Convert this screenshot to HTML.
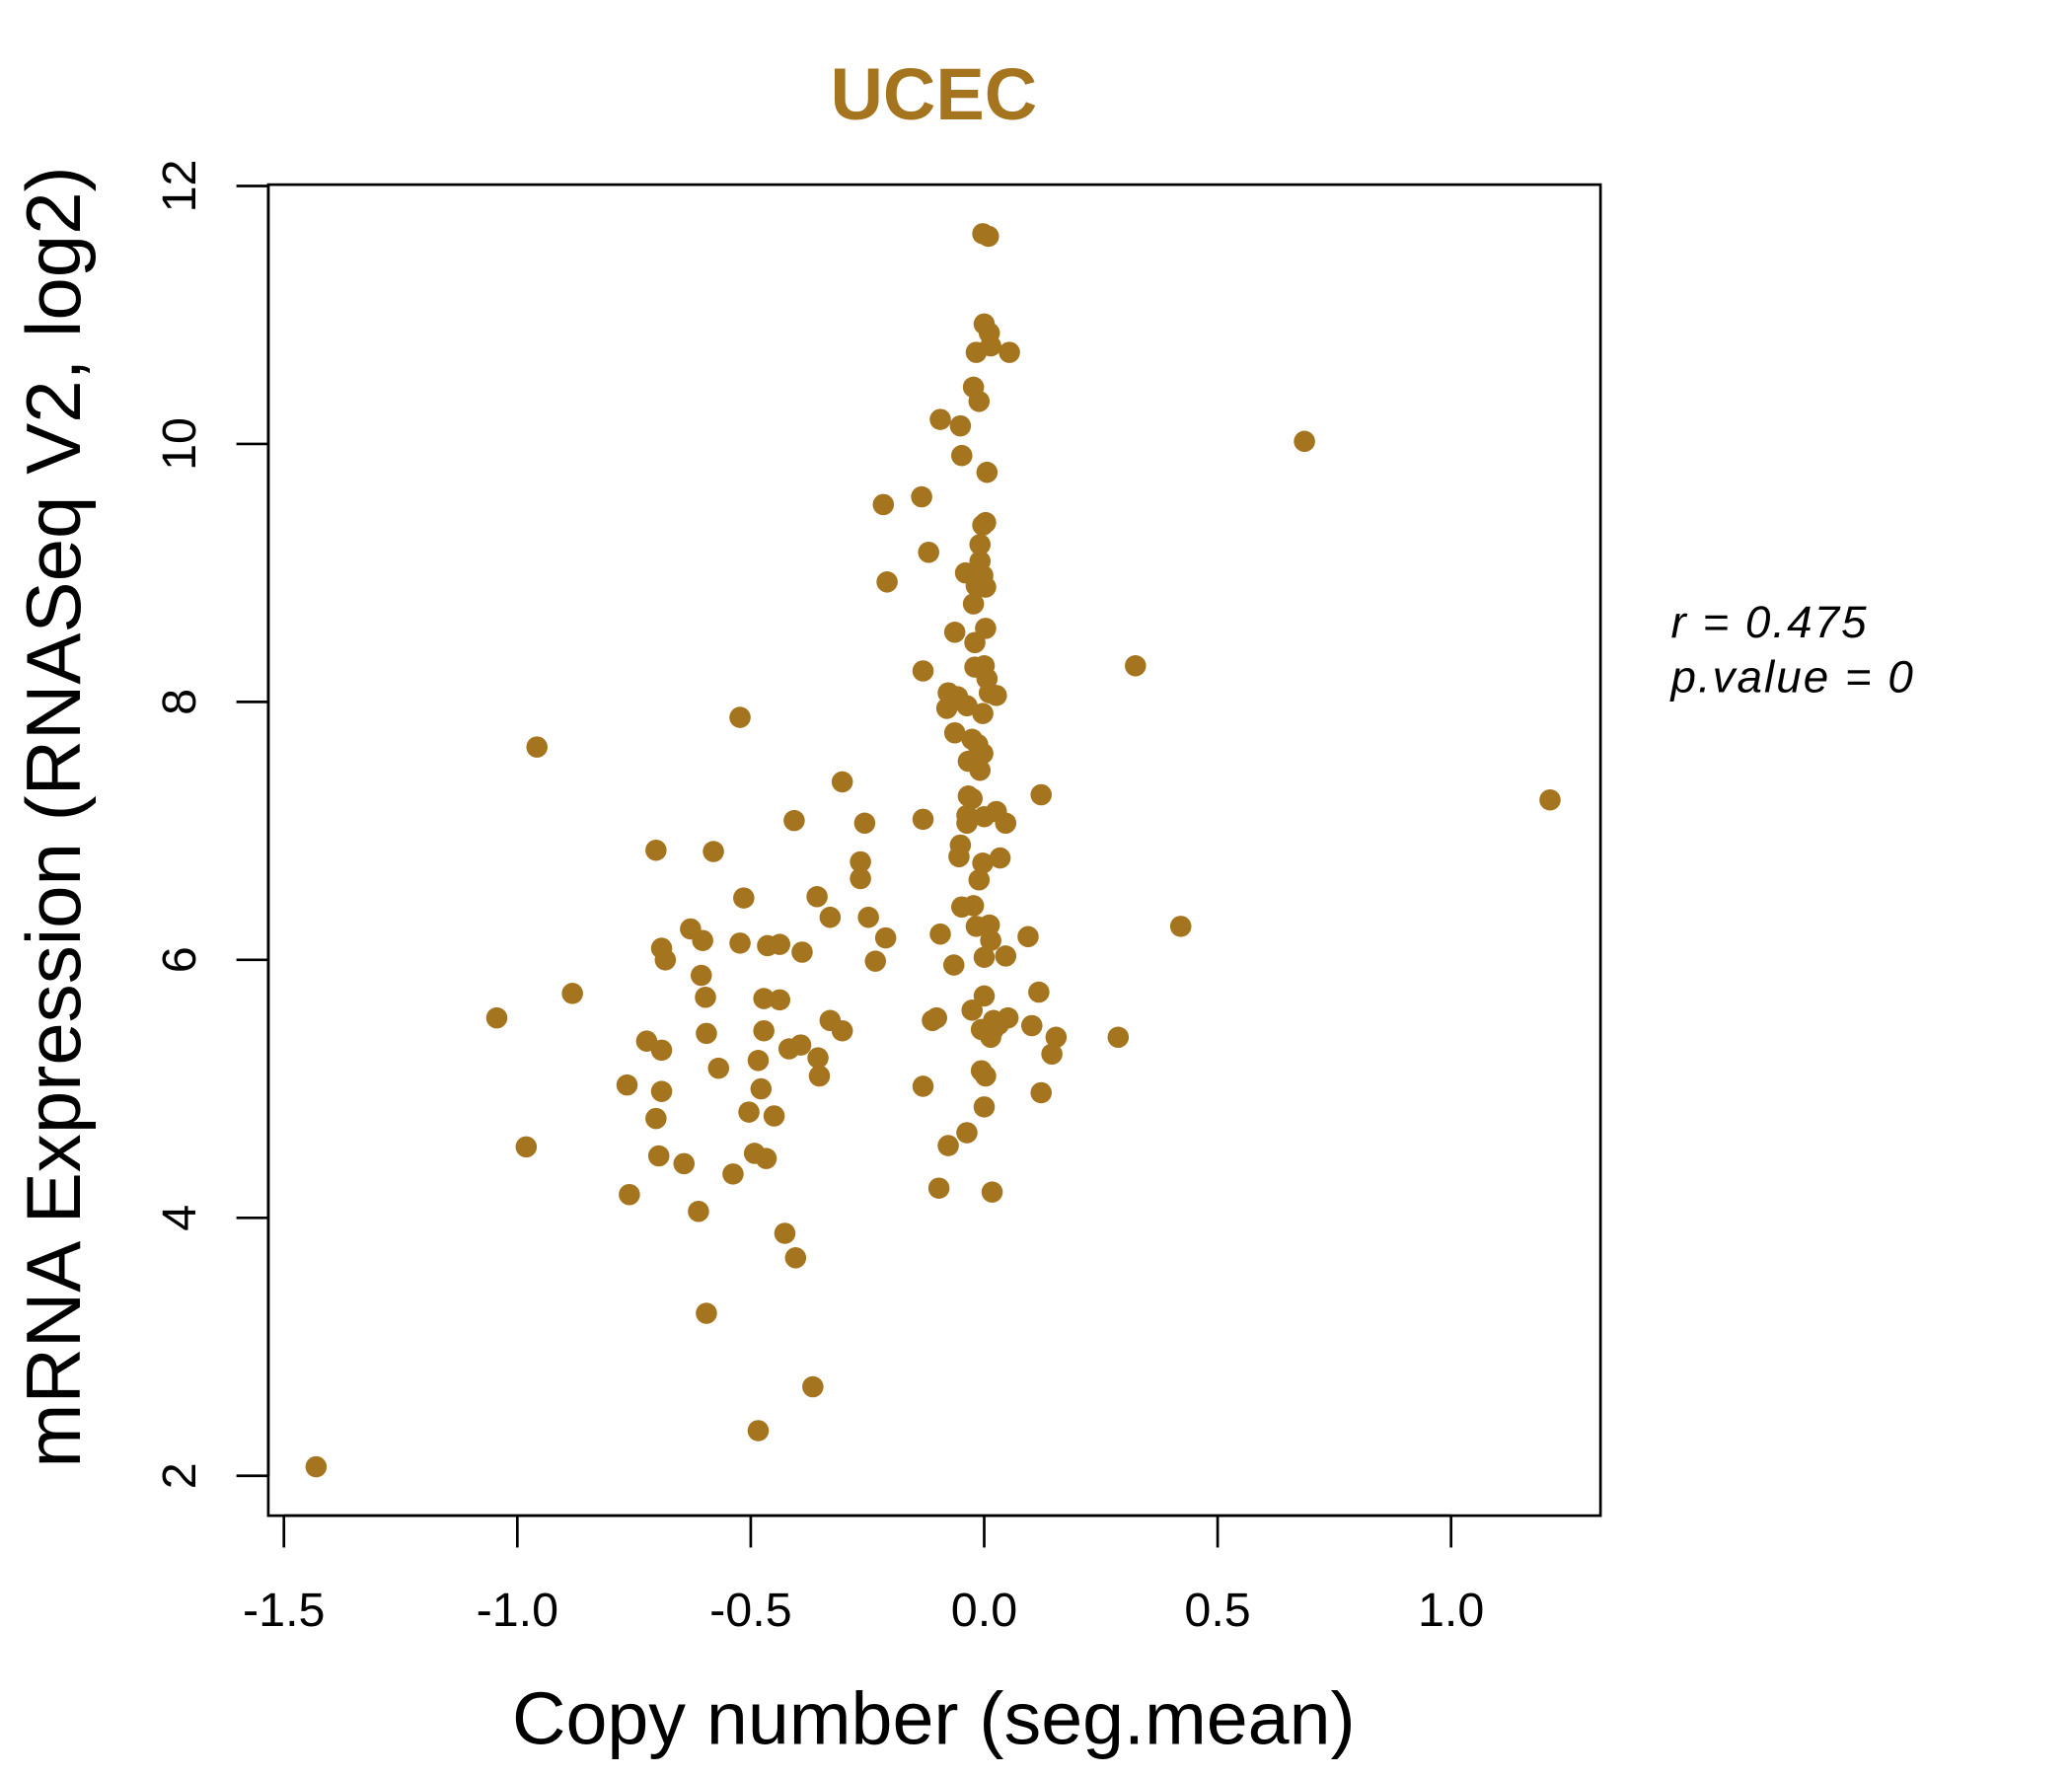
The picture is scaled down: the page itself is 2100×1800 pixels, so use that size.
<!DOCTYPE html>
<html><head><meta charset="utf-8"><style>
html,body{margin:0;padding:0;background:#fff;}
svg{display:block;}
text{font-family:"Liberation Sans",sans-serif;}
</style></head><body>
<svg id="chart" width="2100" height="1800" viewBox="0 0 1560 1337" preserveAspectRatio="none" xmlns="http://www.w3.org/2000/svg">
<text x="703" y="90" text-anchor="middle" font-size="55" font-weight="bold" fill="#A5741E">UCEC</text>
<rect x="202" y="139" width="1003" height="1002" fill="none" stroke="#000" stroke-width="2"/>
<g id="xaxis"></g>
<g id="yaxis"></g>
<g id="points"></g>
<text x="703" y="1313" text-anchor="middle" font-size="56">Copy number (seg.mean)</text>
<text transform="translate(60,615) rotate(-90)" text-anchor="middle" font-size="58">mRNA Expression (RNASeq V2, log2)</text>
<text x="1258" y="480" font-size="34" font-style="italic" letter-spacing="1.5">r = 0.475</text>
<text x="1258" y="521" font-size="34" font-style="italic" letter-spacing="1.5">p.value = 0</text>
</svg>
<script>
const xTicks=[-1.5,-1.0,-0.5,0.0,0.5,1.0];
const xTickLabels=["-1.5","-1.0","-0.5","0.0","0.5","1.0"];
const yTicks=[2,4,6,8,10,12];
const yTickLabels=["2","4","6","8","10","12"];
const xVals=[-1.431,-1.044,-0.981,-0.958,-0.882,-0.765,-0.760,-0.723,-0.703,-0.703,-0.697,-0.691,-0.691,-0.691,-0.683,-0.643,-0.629,-0.612,-0.606,-0.603,-0.597,-0.595,-0.595,-0.580,-0.569,-0.538,-0.523,-0.523,-0.515,-0.504,-0.492,-0.484,-0.484,-0.478,-0.472,-0.472,-0.467,-0.464,-0.450,-0.438,-0.438,-0.427,-0.418,-0.407,-0.404,-0.393,-0.390,-0.367,-0.358,-0.356,-0.353,-0.330,-0.330,-0.304,-0.304,-0.265,-0.265,-0.256,-0.248,-0.233,-0.216,-0.211,-0.208,-0.134,-0.131,-0.131,-0.131,-0.119,-0.111,-0.102,-0.097,-0.094,-0.094,-0.080,-0.077,-0.077,-0.065,-0.063,-0.063,-0.057,-0.054,-0.051,-0.051,-0.048,-0.048,-0.040,-0.037,-0.037,-0.037,-0.037,-0.034,-0.034,-0.026,-0.026,-0.026,-0.023,-0.023,-0.023,-0.020,-0.020,-0.017,-0.017,-0.017,-0.014,-0.011,-0.011,-0.009,-0.009,-0.009,-0.006,-0.006,-0.003,-0.003,-0.003,-0.003,-0.003,-0.003,0,0,0,0,0,0,0.003,0.003,0.003,0.003,0.006,0.006,0.009,0.011,0.011,0.011,0.014,0.014,0.014,0.017,0.020,0.020,0.026,0.026,0.031,0.034,0.046,0.046,0.051,0.054,0.094,0.102,0.117,0.122,0.122,0.145,0.154,0.287,0.324,0.421,0.686,1.212];
const yVals=[2.07,5.55,4.55,7.65,5.74,5.03,4.18,5.37,6.85,4.77,4.48,6.09,5.30,4.98,6.00,4.42,6.24,4.05,5.88,6.15,5.71,5.43,3.26,6.84,5.16,4.34,7.88,6.13,6.48,4.82,4.50,2.35,5.22,5.00,5.70,5.45,4.46,6.11,4.79,6.12,5.69,3.88,5.31,7.08,3.69,5.34,6.06,2.69,6.49,5.24,5.10,5.53,6.33,7.38,5.45,6.76,6.63,7.06,6.33,5.99,9.53,6.17,8.93,9.59,7.09,8.24,5.02,9.16,5.53,5.55,4.23,6.20,10.19,7.95,4.56,8.07,5.96,8.54,7.76,8.04,6.80,6.89,10.14,9.91,6.41,9.00,7.97,4.66,7.12,7.06,7.27,7.54,7.71,7.25,5.61,6.42,8.76,10.44,8.46,8.27,10.71,8.90,6.26,7.67,6.62,10.33,7.47,9.09,9.22,5.46,5.14,8.98,9.37,7.60,6.75,7.91,11.63,5.72,4.86,6.02,8.28,10.93,7.11,8.89,5.10,9.39,8.57,8.18,9.78,11.61,8.07,6.27,10.86,6.15,10.76,5.40,4.20,5.53,5.46,7.15,8.05,5.50,6.79,7.06,6.03,5.55,10.71,6.18,5.49,5.75,7.28,4.97,5.27,5.40,5.40,8.28,6.26,10.02,7.24];
const NS="http://www.w3.org/2000/svg";
function sx(v){return 741+v*351.5;}
function sy(v){return 1111-(v-2)*97.1;}
function mk(tag,attrs,parent){const e=document.createElementNS(NS,tag);for(const k in attrs)e.setAttribute(k,attrs[k]);parent.appendChild(e);return e;}
const xa=document.getElementById('xaxis');
let l=mk('line',{x1:sx(xTicks[0]),x2:sx(xTicks[xTicks.length-1]),y1:1141,y2:1141,stroke:'#000','stroke-width':2},xa);


xTicks.forEach((t,i)=>{
  const tk=mk('line',{x1:sx(t),x2:sx(t),y1:1141,y2:1165,stroke:'#000','stroke-width':2},xa);
  
  
  const tx=mk('text',{x:sx(t),y:1224,'text-anchor':'middle','font-size':36},xa);
  tx.textContent=xTickLabels[i];
  
  
});
const ya=document.getElementById('yaxis');
l=mk('line',{x1:202,x2:202,y1:sy(yTicks[0]),y2:sy(yTicks[yTicks.length-1]),stroke:'#000','stroke-width':2},ya);


yTicks.forEach((t,i)=>{
  const tk=mk('line',{x1:178,x2:202,y1:sy(t),y2:sy(t),stroke:'#000','stroke-width':2},ya);
  
  
  const tx=mk('text',{transform:`translate(147,${sy(t)}) rotate(-90)`,'text-anchor':'middle','font-size':36},ya);
  tx.textContent=yTickLabels[i];
  
  
});
const pg=document.getElementById('points');
xVals.forEach((x,i)=>{
  const c=mk('circle',{cx:sx(x),cy:sy(yVals[i]),r:8,fill:'#A5741E'},pg);
  
  
});
</script>
</body></html>
